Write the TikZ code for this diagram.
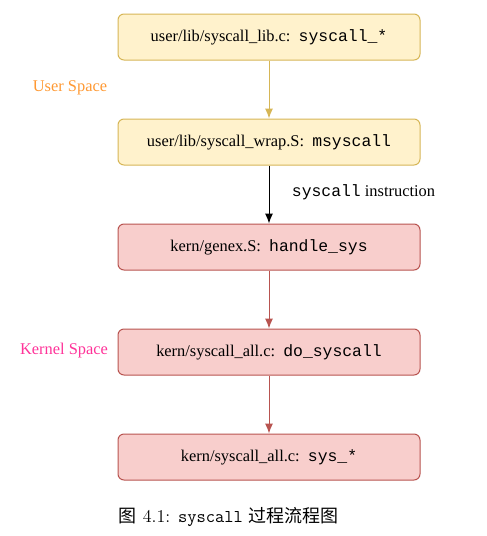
\documentclass[tikz,border=0pt]{standalone}
\usepackage{fontspec}
\newfontfamily\boxfont{Liberation Serif}
\newfontfamily\boxmono{Liberation Mono}
\newfontfamily\cjk{Noto Sans CJK SC}
\usetikzlibrary{arrows.meta}
\usepackage{xcolor}
\definecolor{userfill}{HTML}{FFF2CC}
\definecolor{userdraw}{HTML}{D6B656}
\definecolor{kernfill}{HTML}{F8CECC}
\definecolor{kerndraw}{HTML}{B85450}
\definecolor{userlbl}{HTML}{FF9933}
\definecolor{kernlbl}{HTML}{FF3399}

\begin{document}
\begin{tikzpicture}[x=0.75pt, y=-0.75pt, >={Latex[length=7.5pt,width=6pt]}, line width=0.75pt,
    every node/.style={font=\boxfont\fontsize{12.3}{14}\selectfont},
    ubox/.style={rectangle, rounded corners=4.5pt, draw=userdraw, fill=userfill, minimum width=226.5pt, minimum height=34.5pt},
    kbox/.style={rectangle, rounded corners=4.5pt, draw=kerndraw, fill=kernfill, minimum width=226.5pt, minimum height=34.5pt}]
    \useasboundingbox (0,0) rectangle (486,536);
    \node[ubox] (0) at (269,37) {user/lib/syscall\_lib.c:\ \ {\boxmono syscall\_*}};
    \node[ubox] (1) at (269,142) {user/lib/syscall\_wrap.S:\ \ {\boxmono msyscall}};
    \node[kbox] (2) at (269,247) {kern/genex.S:\ \ {\boxmono handle\_sys}};
    \node[kbox] (3) at (269,352) {kern/syscall\_all.c:\ \ {\boxmono do\_syscall}};
    \node[kbox] (4) at (269,457) {kern/syscall\_all.c:\ \ {\boxmono sys\_*}};
        \draw[->, userdraw] (0) -- (1);
        \draw[->, black] (1) -- (2);
        \draw[->, kerndraw] (2) -- (3);
        \draw[->, kerndraw] (3) -- (4);
    \node[text=userlbl] (u) at (70,88) {User Space};
    \node[text=kernlbl] (k) at (64,351) {Kernel Space};
    \node[anchor=west] (s) at (287,192) {{\boxmono syscall} instruction};
    \node[anchor=west, font=\fontsize{13.5}{15}\selectfont] (c) at (114,517) {{\cjk 图} 4.1: \texttt{syscall} {\cjk 过程流程图}};
\end{tikzpicture}
\end{document}
